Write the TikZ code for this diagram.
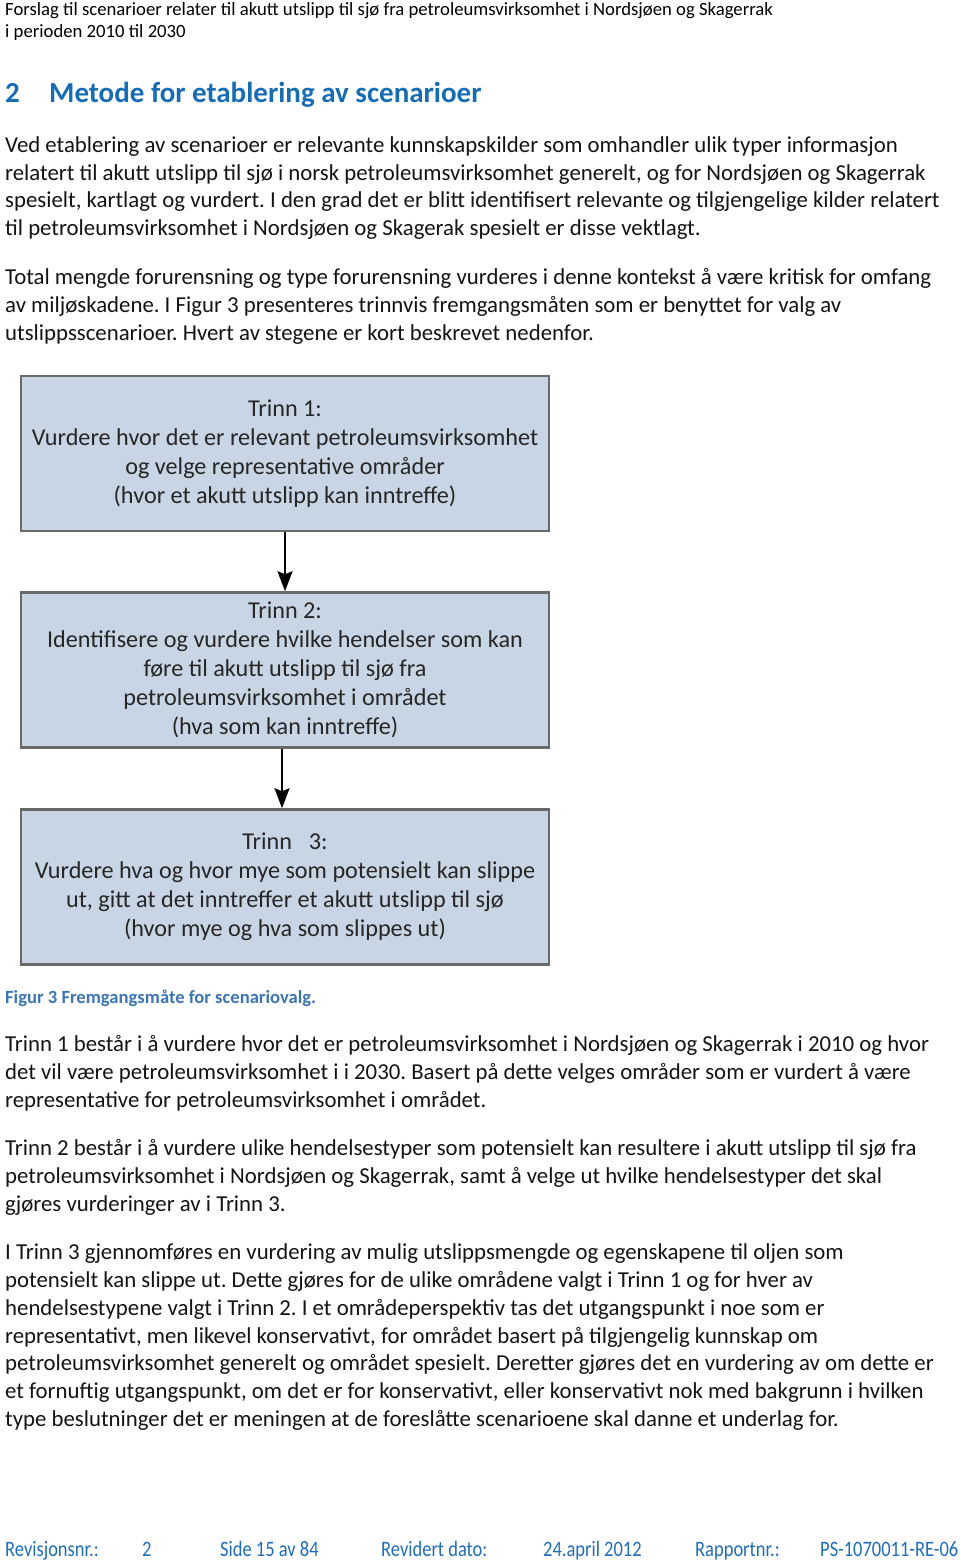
\documentclass[tikz,border=0pt]{standalone}
\usepackage{fontspec}
\setmainfont{Carlito}
\newfontfamily\footfont[FakeStretch=0.84]{Carlito}
\usetikzlibrary{arrows.meta}
\frenchspacing
\definecolor{headblue}{RGB}{23,109,180}
\definecolor{capblue}{RGB}{60,118,180}
\definecolor{footblue}{RGB}{31,110,185}
\definecolor{boxfill}{RGB}{200,213,229}
\definecolor{boxgray}{RGB}{105,105,105}
\tikzset{
  hdr/.style={anchor=base west, inner sep=0pt, font=\frenchspacing\fontsize{18.7}{22}\selectfont, text=black},
  body/.style={anchor=base west, inner sep=0pt, font=\frenchspacing\fontsize{22.8}{27}\selectfont, text=black!92},
  heading/.style={anchor=base west, inner sep=0pt, font=\bfseries\fontsize{29}{33}\selectfont, text=headblue},
  caption/.style={anchor=base west, inner sep=0pt, font=\frenchspacing\bfseries\fontsize{18.6}{22}\selectfont, text=capblue},
  foot/.style={anchor=base west, inner sep=0pt, font=\footfont\fontsize{22}{24}\selectfont, text=footblue},
  stepbox/.style={draw=boxgray, line width=2.5pt, fill=boxfill, minimum width=528pt, minimum height=155pt, align=center, inner sep=0pt, font=\fontsize{24.2}{29}\selectfont, text=black!85},
  flow/.style={line width=2pt, -{Stealth[length=20pt,width=15pt,inset=3pt]}}
}
\begin{document}
\begin{tikzpicture}[x=1pt,y=-1pt]
\path[use as bounding box, fill=white] (0,0) rectangle (960,1562);
% header
\node[hdr] (h1) at (5,16) {Forslag til scenarioer relater til akutt utslipp til sjø fra petroleumsvirksomhet i Nordsjøen og Skagerrak};
\node[hdr] (h2) at (5,38) {i perioden 2010 til 2030};
% heading
\node[heading] (hn) at (5,103) {2};
\node[heading] (ht) at (49,103) {Metode for etablering av scenarioer};
% paragraph 1
\node[body] (a1) at (5,153) {Ved etablering av scenarioer er relevante kunnskapskilder som omhandler ulik typer informasjon};
\node[body] (a2) at (5,181) {relatert til akutt utslipp til sjø i norsk petroleumsvirksomhet generelt, og for Nordsjøen og Skagerrak};
\node[body] (a3) at (5,208) {spesielt, kartlagt og vurdert. I den grad det er blitt identifisert relevante og tilgjengelige kilder relatert};
\node[body] (a4) at (5,236) {til petroleumsvirksomhet i Nordsjøen og Skagerak spesielt er disse vektlagt.};
% paragraph 2
\node[body] (b1) at (5,284) {Total mengde forurensning og type forurensning vurderes i denne kontekst å være kritisk for omfang};
\node[body] (b2) at (5,312) {av miljøskadene. I Figur 3 presenteres trinnvis fremgangsmåten som er benyttet for valg av};
\node[body] (b3) at (5,340) {utslippsscenarioer. Hvert av stegene er kort beskrevet nedenfor.};
% flow chart
\node[stepbox] (s1) at (285,453.5) {Trinn 1:\\Vurdere hvor det er relevant petroleumsvirksomhet\\og velge representative områder\\(hvor et akutt utslipp kan inntreffe)};
\node[stepbox] (s2) at (285,670) {Trinn 2:\\Identifisere og vurdere hvilke hendelser som kan\\føre til akutt utslipp til sjø fra\\petroleumsvirksomhet i området\\(hva som kan inntreffe)};
\node[stepbox] (s3) at (285,887) {Trinn\hspace{0.7em}3:\\Vurdere hva og hvor mye som potensielt kan slippe\\ut, gitt at det inntreffer et akutt utslipp til sjø\\(hvor mye og hva som slippes ut)};
\draw[flow] (s1.south) -- (s2.north);
\draw[flow] ([xshift=-3pt]s2.south) -- ([xshift=-3pt]s3.north);
% caption
\node[caption] (cap) at (5,1003) {Figur 3 Fremgangsmåte for scenariovalg.};
% paragraph 3
\node[body] (c1) at (5,1051) {Trinn 1 består i å vurdere hvor det er petroleumsvirksomhet i Nordsjøen og Skagerrak i 2010 og hvor};
\node[body] (c2) at (5,1079) {det vil være petroleumsvirksomhet i i 2030. Basert på dette velges områder som er vurdert å være};
\node[body] (c3) at (5,1107) {representative for petroleumsvirksomhet i området.};
% paragraph 4
\node[body] (d1) at (5,1155) {Trinn 2 består i å vurdere ulike hendelsestyper som potensielt kan resultere i akutt utslipp til sjø fra};
\node[body] (d2) at (5,1183) {petroleumsvirksomhet i Nordsjøen og Skagerrak, samt å velge ut hvilke hendelsestyper det skal};
\node[body] (d3) at (5,1211) {gjøres vurderinger av i Trinn 3.};
% paragraph 5
\node[body] (e1) at (5,1259) {I Trinn 3 gjennomføres en vurdering av mulig utslippsmengde og egenskapene til oljen som};
\node[body] (e2) at (5,1287) {potensielt kan slippe ut. Dette gjøres for de ulike områdene valgt i Trinn 1 og for hver av};
\node[body] (e3) at (5,1315) {hendelsestypene valgt i Trinn 2. I et områdeperspektiv tas det utgangspunkt i noe som er};
\node[body] (e4) at (5,1343) {representativt, men likevel konservativt, for området basert på tilgjengelig kunnskap om};
\node[body] (e5) at (5,1370) {petroleumsvirksomhet generelt og området spesielt. Deretter gjøres det en vurdering av om dette er};
\node[body] (e6) at (5,1398) {et fornuftig utgangspunkt, om det er for konservativt, eller konservativt nok med bakgrunn i hvilken};
\node[body] (e7) at (5,1426) {type beslutninger det er meningen at de foreslåtte scenarioene skal danne et underlag for.};
% footer
\node[foot] (f1) at (5,1556) {Revisjonsnr.:};
\node[foot] (f2) at (142,1556) {2};
\node[foot] (f3) at (220,1556) {Side 15 av 84};
\node[foot] (f4) at (381,1556) {Revidert dato:};
\node[foot] (f5) at (543,1556) {24.april 2012};
\node[foot] (f6) at (695,1556) {Rapportnr.:};
\node[foot] (f7) at (820,1556) {PS-1070011-RE-06};
\end{tikzpicture}
\end{document}
